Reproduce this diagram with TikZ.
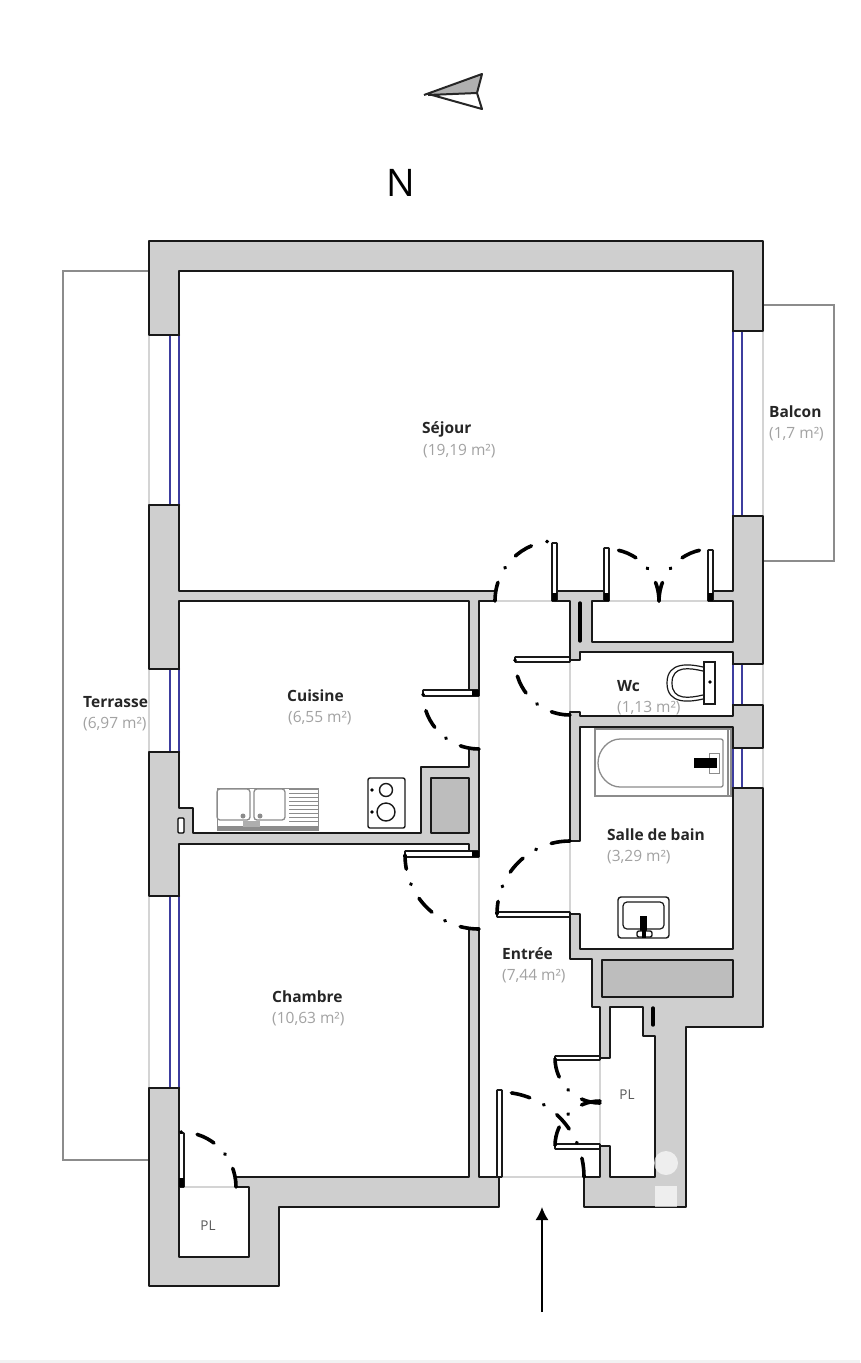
\documentclass[tikz,border=0pt]{standalone}
\usepackage{fontspec}
\setmainfont{Open Sans}
\usetikzlibrary{arrows.meta}
\definecolor{wallgray}{HTML}{CFCFCF}
\definecolor{shaftgray}{HTML}{BDBDBD}
\definecolor{glassblue}{HTML}{3D3D9E}
\definecolor{edgegray}{HTML}{8C8C8C}
\definecolor{paleline}{HTML}{D4D4D4}
\definecolor{areagray}{HTML}{A2A2A2}
\begin{document}
\begin{tikzpicture}[x = 1pt, y = 1pt,
    wallline/.style = {draw = black!90, line width = 2.3pt, line join = round, line cap = round},
    swing/.style = {draw = black, line width = 3.6pt, line cap = round,
        dash pattern = on 19pt off 16pt on 0.6pt off 15.4pt},
    leaf/.style = {draw = black!90, fill = white, line width = 1.6pt, rounded corners = 0.5pt},
    sill/.style = {draw = paleline, line width = 1.3pt},
    glass/.style = {draw = glassblue, line width = 1.8pt},
    fixture/.style = {draw = edgegray, line width = 1.3pt},
    darkfixture/.style = {draw = black!90, line width = 1.4pt},
    roomname/.style = {anchor = west, font = \fontsize{15.5}{17}\selectfont\bfseries, text = black!85, inner sep = 0pt},
    roomarea/.style = {anchor = west, font = \fontsize{15.5}{17}\selectfont, text = areagray, inner sep = 0pt},
    plname/.style = {anchor = center, font = \fontsize{13.5}{15}\selectfont, text = black!65, inner sep = 0pt}]
    % page
    \useasboundingbox (0,0) rectangle (860,-1363);
    \fill[white] (0,0) rectangle (860,-1363);
    \fill[black!5] (0,-1360) rectangle (860,-1363);
    % north sign
    \fill[wallgray!85!black] (426,-95) -- (482,-74) -- (477,-93) -- cycle;
    \draw[black!85, line width = 2pt, line join = round] (424,-95) -- (482,-74) -- (477,-93) -- (482,-109) -- (432,-95) (428,-95) -- (477,-93);
    \node[anchor = center, font = \fontsize{38}{40}\selectfont, text = black, inner sep = 0pt] (north) at (401,-183) {N};
    % terrace and balcony
    \draw[edgegray, line width = 1.4pt] (149,-271) -- (63,-271) -- (63,-1160) -- (149,-1160);
    \draw[edgegray, line width = 1.4pt] (763,-305) -- (834,-305) -- (834,-561) -- (763,-561);
    % wall mass
    \fill[wallgray] (149,-241) -- (763,-241) -- (763,-1027) -- (686,-1027) -- (686,-1207)
        -- (584,-1207) -- (584,-1177) -- (499,-1177) -- (499,-1207) -- (279,-1207)
        -- (279,-1286) -- (149,-1286) -- cycle;
    % rooms
    \fill[white] (179,-271) rectangle (733,-591);
    \fill[white] (495,-590) rectangle (555,-602);
    \fill[white] (605,-590) rectangle (710,-602);
    \fill[white] (592,-601) rectangle (733,-642);
    \fill[white] (179,-601) -- (469,-601) -- (469,-693) -- (480,-693) -- (480,-749) -- (469,-749)
        -- (469,-767) -- (421,-767) -- (421,-833) -- (193,-833) -- (193,-808) -- (179,-808) -- cycle;
    \fill[white] (179,-844) -- (469,-844) -- (469,-855) -- (480,-855) -- (480,-928) -- (469,-928)
        -- (469,-1177) -- (236,-1177) -- (236,-1187) -- (249,-1187) -- (249,-1257) -- (179,-1257) -- cycle;
    \fill[white] (479,-601) -- (570,-601) -- (570,-959) -- (592,-959) -- (592,-1007)
        -- (600,-1007) -- (600,-1177) -- (479,-1177) -- cycle;
    \fill[white] (569,-660) -- (580,-660) -- (580,-652) -- (733,-652) -- (733,-716)
        -- (580,-716) -- (580,-712) -- (569,-712) -- cycle;
    \fill[white] (580,-727) -- (733,-727) -- (733,-949) -- (580,-949) -- (580,-914)
        -- (569,-914) -- (569,-841) -- (580,-841) -- cycle;
    \fill[white] (599,-1058) -- (610,-1058) -- (610,-1007) -- (643,-1007) -- (643,-1036)
        -- (655,-1036) -- (655,-1177) -- (610,-1177) -- (610,-1146) -- (599,-1146) -- cycle;
    \fill[white] (499,-1176) rectangle (584,-1208);
    % windows
    \foreach \ya/\yb in {335/505, 669/752, 896/1088}{
        \fill[white] (149,-\ya) rectangle (180,-\yb);
        \draw[sill] (149,-\ya) -- (149,-\yb);
        \draw[glass] (170,-\ya) -- (170,-\yb);
        \draw[glass] (179,-\ya) -- (179,-\yb);
    }
    \foreach \ya/\yb in {331/516, 664/705, 748/788}{
        \fill[white] (732,-\ya) rectangle (763,-\yb);
        \draw[sill] (763,-\ya) -- (763,-\yb);
        \draw[glass] (733,-\ya) -- (733,-\yb);
        \draw[glass] (742,-\ya) -- (742,-\yb);
    }
    % sills of the doors
    \draw[sill] (495,-601) -- (555,-601);
    \draw[sill] (607,-601) -- (711,-601);
    \draw[sill] (479,-696) -- (479,-749);
    \draw[sill] (479,-857) -- (479,-928);
    \draw[sill] (570,-662) -- (570,-712);
    \draw[sill] (570,-841) -- (570,-912);
    \draw[sill] (600,-1060) -- (600,-1144);
    \draw[sill] (499,-1177) -- (584,-1177);
    \draw[sill] (181,-1187) -- (236,-1187);
    % shafts
    \draw[wallline, fill = shaftgray] (431,-778) rectangle (469,-833);
    \draw[wallline, fill = shaftgray] (602,-960) rectangle (733,-997);
    % walls, outside
    \draw[wallline] (179,-335) -- (149,-335) -- (149,-241) -- (763,-241) -- (763,-331) -- (733,-331);
    \draw[wallline] (179,-505) -- (149,-505) -- (149,-669) -- (179,-669);
    \draw[wallline] (179,-752) -- (149,-752) -- (149,-896) -- (179,-896);
    \draw[wallline] (179,-1088) -- (149,-1088) -- (149,-1286) -- (279,-1286) -- (279,-1207) -- (499,-1207) -- (499,-1177);
    \draw[wallline] (733,-516) -- (763,-516) -- (763,-664) -- (733,-664);
    \draw[wallline] (733,-705) -- (763,-705) -- (763,-748) -- (733,-748);
    \draw[wallline] (733,-788) -- (763,-788) -- (763,-1027) -- (686,-1027) -- (686,-1207) -- (584,-1207) -- (584,-1177) -- (600,-1177) -- (600,-1148);
    % walls, inside
    \draw[wallline] (179,-335) -- (179,-271) -- (733,-271) -- (733,-331);
    \draw[wallline] (179,-505) -- (179,-591) -- (495,-591) -- (495,-601) -- (479,-601) -- (479,-690);
    \draw[wallline] (555,-601) -- (555,-591) -- (605,-591) -- (605,-601) -- (592,-601) -- (592,-642) -- (733,-642) -- (733,-601) -- (710,-601) -- (710,-591) -- (733,-591) -- (733,-516);
    \draw[wallline] (555,-601) -- (570,-601) -- (570,-657);
    \draw[wallline] (570,-660) -- (580,-660) -- (580,-652) -- (733,-652) -- (733,-664);
    \draw[wallline] (733,-705) -- (733,-716) -- (580,-716) -- (580,-712) -- (570,-712) -- (570,-841) -- (580,-841) -- (580,-727) -- (733,-727) -- (733,-748);
    \draw[wallline] (733,-788) -- (733,-949) -- (580,-949) -- (580,-914) -- (570,-914) -- (570,-959) -- (592,-959) -- (592,-1007) -- (600,-1007) -- (600,-1056);
    \draw[wallline] (600,-1058) -- (610,-1058) -- (610,-1007) -- (643,-1007) -- (643,-1036) -- (655,-1036) -- (655,-1177) -- (610,-1177) -- (610,-1146) -- (600,-1146);
    \draw[wallline] (179,-669) -- (179,-601) -- (469,-601) -- (469,-690);
    \draw[wallline] (479,-749) -- (469,-749) -- (469,-767) -- (421,-767) -- (421,-833) -- (193,-833) -- (193,-808) -- (179,-808) -- (179,-752);
    \draw[wallline] (179,-896) -- (179,-844) -- (469,-844) -- (469,-852);
    \draw[wallline] (479,-749) -- (479,-852);
    \draw[wallline] (469,-928) -- (479,-928) -- (479,-1177) -- (499,-1177);
    \draw[wallline] (469,-928) -- (469,-1177) -- (236,-1177) -- (236,-1187) -- (249,-1187) -- (249,-1257) -- (179,-1257) -- (179,-1088);
    % marks inside the walls
    \draw[black, line width = 1.3pt, fill = white, rounded corners = 1pt] (178,-818) rectangle (184,-833);
    \draw[black, line width = 3.4pt, line cap = round] (580,-603) -- (580,-641);
    \draw[black, line width = 3.4pt, line cap = round] (653,-1008) -- (653,-1025);
    % door leaves
    \foreach \xa/\ya/\xb/\yb in {552/601/557/543, 604/601/609/548, 708/601/713/550,
        515/657/570/662, 423/690/479/696, 405/851/479/857, 497/912/570/917,
        555/1056/600/1060, 555/1144/600/1149, 497/1090/502/1177, 179/1133/184/1187}{
        \draw[leaf] (\xa,-\ya) rectangle (\xb,-\yb);
    }
    % hinges
    \foreach \xa/\ya/\xb/\yb in {552/593/557/601, 604/593/609/601, 708/593/713/601,
        472/690/479/696, 472/851/479/857, 179/1178/184/1187}{
        \fill[black] (\xa,-\ya) rectangle (\xb,-\yb);
    }
    % door swings, from the jamb to the leaf
    \draw[swing] (495,-601) arc[start angle = 180, end angle = 90, radius = 60];
    \draw[swing] (659,-601) arc[start angle = 0, end angle = 90, radius = 52];
    \draw[swing] (659,-601) arc[start angle = 180, end angle = 90, radius = 52];
    \draw[swing] (570,-715) arc[start angle = 270, end angle = 180, radius = 55];
    \draw[swing] (479,-749) arc[start angle = 270, end angle = 180, radius = 56];
    \draw[swing] (479,-929) arc[start angle = 270, end angle = 180, radius = 74];
    \draw[swing] (570,-841) arc[start angle = 90, end angle = 180, radius = 73];
    \draw[swing] (584,-1177) arc[start angle = 0, end angle = 90, radius = 85];
    \draw[swing] (600,-1103) arc[start angle = 270, end angle = 180, radius = 45];
    \draw[swing] (600,-1101) arc[start angle = 90, end angle = 180, radius = 45];
    \draw[swing] (236,-1187) arc[start angle = 0, end angle = 90, radius = 55];
    % kitchen sink
    \draw[fixture, rounded corners = 3pt] (217,-789) rectangle (250,-820);
    \draw[fixture, rounded corners = 3pt] (254,-789) rectangle (285,-820);
    \foreach \y in {789,793,...,821}{
        \draw[fixture, line width = 0.9pt] (289,-\y) -- (318,-\y);
    }
    \draw[fixture, line width = 0.7pt] (217,-788) rectangle (318,-830);
    \fill[edgegray] (217,-826) rectangle (318,-830);
    \fill[edgegray] (243,-816) circle (2.5);
    \fill[edgegray] (260,-816) circle (2.5);
    \fill[edgegray!70] (243,-821) rectangle (260,-827);
    % hob
    \draw[darkfixture, fill = white, rounded corners = 2pt] (368,-778) rectangle (405,-828);
    \draw[darkfixture] (386,-790) circle (6.5);
    \draw[darkfixture] (386,-812) circle (9);
    \fill[black] (372,-790) circle (1.8);
    \fill[black] (372,-812) circle (1.8);
    % toilet
    \draw[darkfixture, line width = 1.2pt] (703,-667) .. controls (690,-664) and (667,-661) .. (667,-683) .. controls (667,-705) and (690,-702) .. (703,-699);
    \draw[darkfixture, line width = 1.2pt] (703,-671) .. controls (690,-668) and (672,-665) .. (672,-683) .. controls (672,-701) and (690,-698) .. (703,-695);
    \draw[darkfixture, fill = white] (704,-662) rectangle (715,-704);
    \fill[black] (710,-682) circle (1.8);
    % bath
    \draw[fixture] (595,-729) rectangle (731,-796);
    \draw[fixture] (728,-729) -- (728,-796);
    \draw[fixture, rounded corners = 2pt] (723,-739) -- (622,-739) arc[start angle = 90, end angle = 270, radius = 24] -- (723,-787) -- cycle;
    \draw[fixture, fill = white, line width = 0.9pt] (709,-753) rectangle (719,-773);
    \fill[black] (694,-758) rectangle (717,-768);
    % wash basin
    \draw[darkfixture, rounded corners = 3pt] (618,-897) rectangle (669,-938);
    \draw[darkfixture, line width = 1.2pt, rounded corners = 4pt] (623,-902) rectangle (664,-929);
    \fill[black] (640,-916) rectangle (647,-932);
    \draw[darkfixture, fill = white, rounded corners = 2pt] (637,-931) rectangle (652,-937);
    \fill[black] (642,-930) rectangle (646,-938);
    % entrance
    \coordinate (entryfoot) at (542,-1312);
    \coordinate (entryhead) at (542,-1207);
    \draw[-{Latex[length = 13pt, width = 13pt]}, black, line width = 1.6pt] (entryfoot) -- (entryhead);
    % room labels
    \node[roomname] (sejour) at (422,-429) {Séjour};
    \node[roomarea] (sejourarea) at (423,-451) {(19,19 m²)};
    \node[roomname] (balcon) at (769,-412) {Balcon};
    \node[roomarea] (balconarea) at (769,-434) {(1,7 m²)};
    \node[roomname] (terrasse) at (83,-702) {Terrasse};
    \node[roomarea] (terrassearea) at (83,-724) {(6,97 m²)};
    \node[roomname] (cuisine) at (287,-696) {Cuisine};
    \node[roomarea] (cuisinearea) at (288,-718) {(6,55 m²)};
    \node[roomname] (wc) at (617,-686) {Wc};
    \node[roomarea] (wcarea) at (617,-708) {(1,13 m²)};
    \node[roomname] (bain) at (607,-835) {Salle de bain};
    \node[roomarea] (bainarea) at (607,-857) {(3,29 m²)};
    \node[roomname] (entree) at (502,-954) {Entrée};
    \node[roomarea] (entreearea) at (502,-976) {(7,44 m²)};
    \node[roomname] (chambre) at (272,-997) {Chambre};
    \node[roomarea] (chambrearea) at (272,-1019) {(10,63 m²)};
    \node[plname] (plentree) at (627,-1095) {PL};
    \node[plname] (plchambre) at (208,-1226) {PL};
    % pale mark over the bottom right corner
    \fill[white, opacity = 0.65] (666,-1163) circle (12);
    \fill[white, opacity = 0.65] (655,-1186) rectangle (677,-1207);
\end{tikzpicture}
\end{document}
